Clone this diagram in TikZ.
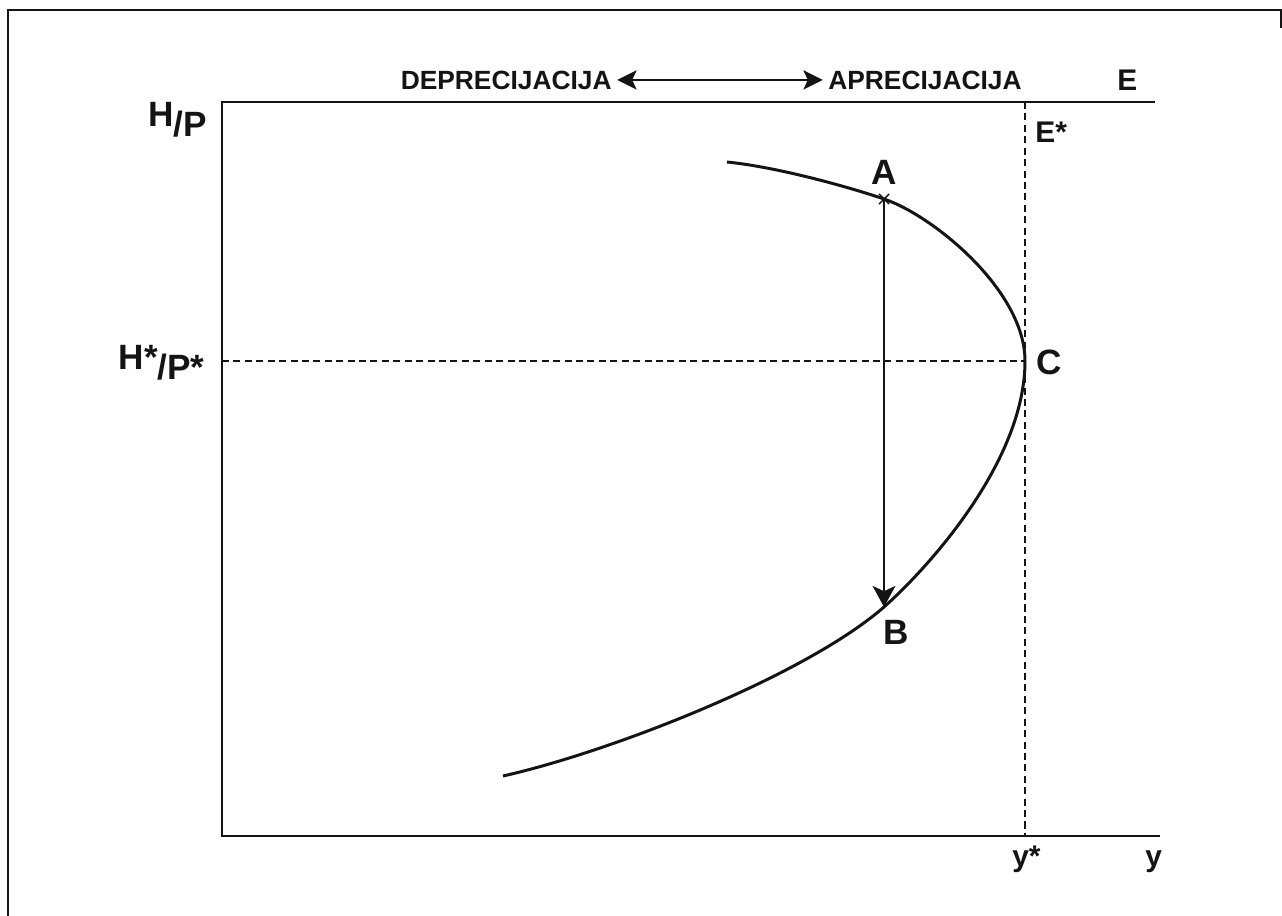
\documentclass[tikz,border=0pt]{standalone}
\usepackage{fontspec}
\setmainfont{Liberation Sans}
\usepackage{tikz}
\usetikzlibrary{
  arrows.meta,
  positioning,
  calc,
  shapes.misc
}
\definecolor{inkblack}{RGB}{20,20,20}
\tikzset{
  boxframe/.style={draw=inkblack, line width=1.6pt},
  axisline/.style={draw=inkblack, line width=1.4pt},
  guide/.style={draw=inkblack, line width=0.9pt, dash pattern=on 4pt off 2.5pt},
  bpcurve/.style={draw=inkblack, line width=1.7pt},
  moveline/.style={-{Stealth[length=12pt, width=13pt, inset=3pt]}, inkblack, line width=1pt},
  dirline/.style={{Stealth[length=11pt, width=11pt, inset=2.5pt]}-{Stealth[length=11pt, width=11pt, inset=2.5pt]},
    inkblack, line width=1.1pt},
  crossmark/.style={cross out, draw=inkblack, line width=0.8pt, minimum size=5pt, inner sep=0pt},
  toplbl/.style={inner sep=0pt, text=inkblack, font=\fontsize{15}{15}\selectfont\bfseries},
  axlbl/.style={inner sep=0pt, text=inkblack, font=\fontsize{17}{17}\selectfont\bfseries},
  ptlbl/.style={inner sep=0pt, text=inkblack, font=\fontsize{20}{20}\selectfont\bfseries},
}
\newcommand{\hpratio}[2]{#1\raisebox{-6pt}{\fontsize{20}{20}\selectfont/#2}}

\begin{document}
\begin{tikzpicture}[x=0.02cm, y=-0.02cm]
		\useasboundingbox (0,0) rectangle (1282,916);

		%% Frame
		\draw[boxframe] (8,916) -- (8,10) -- (1281,10) -- (1281,28);

		%% Axes
		\coordinate (tl) at (222,102);
		\coordinate (o)  at (222,836);
		\draw[axisline] (1155,102) -- (tl) -- (o) -- (1160,836);

		%% Key points
		\coordinate (A) at (884,199);
		\coordinate (B) at (884,607);
		\coordinate (C) at (1025,361);

		%% Guides
		\draw[guide] (1025,102) -- (1025,836);
		\draw[guide] (222,361) -- (C);

		%% Curve
		\draw[bpcurve] (727,162) .. controls (777,167) and (849,187) .. (A)
		.. controls (934,216) and (1025,291) .. (C)
		.. controls (1025,461) and (929,567) .. (B)
		.. controls (805,676) and (610,752) .. (503,776);

		%% Move A -> B
		\node[crossmark] (xA) at (A) {};
		\draw[moveline] (A) -- (B);

		%% Direction of E
		\node[toplbl, anchor=base east] (dep) at (612,89) {DEPRECIJACIJA};
		\node[toplbl, anchor=base west] (apr) at (828,89) {APRECIJACIJA};
		\draw[dirline] ([xshift=3pt]dep.east) -- ([xshift=-3pt]apr.west);

		%% Axis labels
		\node[axlbl, anchor=base west] (lE)  at (1117,90)  {E};
		\node[axlbl, anchor=base west] (lEs) at (1035,142) {E*};
		\node[axlbl, anchor=base west] (lys) at (1012,866) {y*};
		\node[axlbl, anchor=base west] (ly)  at (1145,866) {y};
		\node[ptlbl, anchor=base east] (lHP)  at (207,126) {\hpratio{H}{P}};
		\node[ptlbl, anchor=base east] (lHPs) at (205,369) {\hpratio{H*}{P*}};

		%% Point labels
		\node[ptlbl] (lA) at (884,172) {A};
		\node[ptlbl] (lB) at (896,632) {B};
		\node[ptlbl] (lC) at (1049,362) {C};

	\end{tikzpicture}
\end{document}
